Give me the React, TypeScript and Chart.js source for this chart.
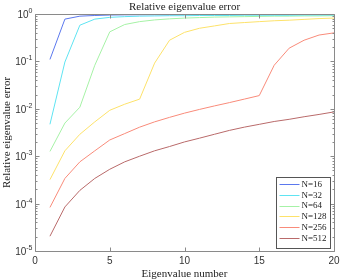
import React, { useEffect, useRef } from "react";
import { Chart, registerables } from "chart.js";

Chart.register(...registerables);

const eigenNumbers = [1, 2, 3, 4, 5, 6, 7, 8, 9, 10, 11, 12, 13, 14, 15, 16, 17, 18, 19, 20];
const seriesLabels = ["N=16", "N=32", "N=64", "N=128", "N=256", "N=512"];
const seriesColors = ["#5b78ee", "#5fe4f2", "#a6f2a6", "#fde26a", "#f98b7a", "#b96a6a"];

const errN16 = [0.11, 0.78, 0.9, 0.93, 0.95, 0.96, 0.965, 0.97, 0.97, 0.975, 0.975, 0.98, 0.98, 0.98, 0.98, 0.985, 0.985, 0.985, 0.985, 0.99];
const errN32 = [0.0047, 0.097, 0.58, 0.78, 0.85, 0.88, 0.9, 0.91, 0.92, 0.92, 0.93, 0.93, 0.93, 0.94, 0.94, 0.94, 0.94, 0.95, 0.95, 0.95];
const errN64 = [0.00126, 0.005, 0.0108, 0.083, 0.42, 0.6, 0.69, 0.75, 0.79, 0.82, 0.84, 0.86, 0.87, 0.88, 0.89, 0.9, 0.9, 0.91, 0.91, 0.92];
const errN128 = [0.00032, 0.0013, 0.0029, 0.0053, 0.0093, 0.0125, 0.016, 0.092, 0.28, 0.41, 0.5, 0.56, 0.63, 0.66, 0.69, 0.72, 0.74, 0.77, 0.8, 0.82];
const errN256 = [8.3e-5, 0.00034, 0.00076, 0.0013, 0.0022, 0.003, 0.0041, 0.0053, 0.0066, 0.0081, 0.0097, 0.0115, 0.0135, 0.016, 0.019, 0.083, 0.19, 0.28, 0.36, 0.4];
const errN512 = [2.05e-5, 8.5e-5, 0.00019, 0.00034, 0.00053, 0.00076, 0.001, 0.0013, 0.0016, 0.002, 0.0024, 0.0029, 0.0035, 0.0041, 0.0047, 0.0054, 0.006, 0.0068, 0.0076, 0.0086];

const xTickValues = [0, 5, 10, 15, 20];
const yTickExponents = [-5, -4, -3, -2, -1, 0];
const titleText = "Relative eigenvalue error";
const xLabelText = "Eigenvalue number";
const yLabelText = "Relative eigenvalue error";

const SERIF = "'Liberation Serif', 'DejaVu Serif', serif";
const SANS = "'Liberation Sans', Arial, sans-serif";

const decorPlugin = {
  id: "decor",
  afterDraw(chart: any) {
    const ctx = chart.ctx;
    const area = chart.chartArea;
    const xs = chart.scales.x;
    const ys = chart.scales.y;
    ctx.save();
    // box
    ctx.strokeStyle = "#8a8a8a";
    ctx.lineWidth = 1;
    const L = Math.round(area.left) + 0.5;
    const R = Math.round(area.right) + 0.5;
    const T = Math.round(area.top) + 0.5;
    const B = Math.round(area.bottom) + 0.5;
    ctx.beginPath();
    ctx.rect(L, T, R - L, B - T);
    ctx.stroke();
    // x ticks
    ctx.beginPath();
    xTickValues.forEach((v) => {
      const px = Math.round(xs.getPixelForValue(v)) + 0.5;
      ctx.moveTo(px, B);
      ctx.lineTo(px, B - 4);
      ctx.moveTo(px, T);
      ctx.lineTo(px, T + 4);
    });
    // y ticks (major + minor)
    yTickExponents.forEach((e) => {
      const py = Math.round(ys.getPixelForValue(Math.pow(10, e))) + 0.5;
      ctx.moveTo(L, py);
      ctx.lineTo(L + 4, py);
      ctx.moveTo(R, py);
      ctx.lineTo(R - 4, py);
      if (e < 0) {
        for (let m = 2; m <= 9; m++) {
          const pm = Math.round(ys.getPixelForValue(m * Math.pow(10, e))) + 0.5;
          ctx.moveTo(L, pm);
          ctx.lineTo(L + 2, pm);
          ctx.moveTo(R, pm);
          ctx.lineTo(R - 2, pm);
        }
      }
    });
    ctx.stroke();

    ctx.fillStyle = "#333";
    // x tick labels
    ctx.font = `10px ${SANS}`;
    ctx.textAlign = "center";
    ctx.textBaseline = "top";
    xTickValues.forEach((v) => {
      ctx.fillText(String(v), xs.getPixelForValue(v), B + 5);
    });
    // y tick labels
    yTickExponents.forEach((e) => {
      const py = ys.getPixelForValue(Math.pow(10, e));
      const expStr = e === 0 ? "0" : "-" + String(-e);
      ctx.font = `7px ${SANS}`;
      const ew = ctx.measureText(expStr).width;
      const right = L - 3;
      ctx.textAlign = "left";
      ctx.textBaseline = "alphabetic";
      ctx.fillText(expStr, right - ew, py - 1);
      ctx.font = `10px ${SANS}`;
      const bw = ctx.measureText("10").width;
      ctx.fillText("10", right - ew - bw, py + 4);
    });
    // title
    ctx.font = `11px ${SERIF}`;
    ctx.textAlign = "center";
    ctx.textBaseline = "alphabetic";
    ctx.fillStyle = "#222";
    ctx.fillText(titleText, (area.left + area.right) / 2, 10);
    // x label
    ctx.fillText(xLabelText, (area.left + area.right) / 2, 277);
    // y label
    ctx.save();
    ctx.translate(10, (area.top + area.bottom) / 2);
    ctx.rotate(-Math.PI / 2);
    ctx.fillText(yLabelText, 0, 0);
    ctx.restore();

    // legend
    const lx = 276.5, ly = 177.5, lw = 54, lh = 71;
    ctx.fillStyle = "#fff";
    ctx.fillRect(lx, ly, lw, lh);
    ctx.strokeStyle = "#555";
    ctx.strokeRect(lx, ly, lw, lh);
    ctx.font = `9px ${SERIF}`;
    ctx.textAlign = "left";
    ctx.textBaseline = "middle";
    chart.data.datasets.forEach((ds: any, i: number) => {
      const yy = ly + 6.5 + i * 10.8;
      ctx.strokeStyle = ds.borderColor;
      ctx.lineWidth = 1;
      ctx.beginPath();
      ctx.moveTo(lx + 3, Math.round(yy) + 0.5);
      ctx.lineTo(lx + 23, Math.round(yy) + 0.5);
      ctx.stroke();
      ctx.fillStyle = "#222";
      ctx.fillText(ds.label, lx + 25, yy + 0.5);
    });
    ctx.restore();
  },
};

export default function App() {
  const ref = useRef<HTMLCanvasElement | null>(null);
  useEffect(() => {
    if (!ref.current) return;
    const allSeries = [errN16, errN32, errN64, errN128, errN256, errN512];
    const chart = new Chart(ref.current, {
      type: "line",
      data: {
        datasets: allSeries.map((arr, i) => ({
          label: seriesLabels[i],
          data: arr.map((v, j) => ({ x: eigenNumbers[j], y: v })),
          borderColor: seriesColors[i],
          backgroundColor: seriesColors[i],
          borderWidth: 1,
          pointRadius: 0,
          tension: 0,
          fill: false,
        })),
      },
      options: {
        animation: false,
        responsive: false,
        events: [],
        layout: { padding: { top: 14, right: 9, left: 0, bottom: 0 } },
        plugins: { legend: { display: false }, title: { display: false }, tooltip: { enabled: false } },
        scales: {
          x: {
            type: "linear",
            min: 0,
            max: 20,
            grid: { display: false },
            border: { display: false },
            ticks: { display: false },
            afterFit: (s: any) => { s.height = 29; },
          },
          y: {
            type: "logarithmic",
            min: 1e-5,
            max: 1,
            grid: { display: false },
            border: { display: false },
            ticks: { display: false },
            afterFit: (s: any) => { s.width = 35; },
          },
        },
      },
      plugins: [decorPlugin],
    } as any);
    return () => chart.destroy();
  }, []);
  return (
    <div style={{ position: "absolute", left: 0, top: 0, width: 343, height: 280, background: "#fff" }}>
      <canvas ref={ref} width={343} height={280} style={{ display: "block" }} />
    </div>
  );
}
